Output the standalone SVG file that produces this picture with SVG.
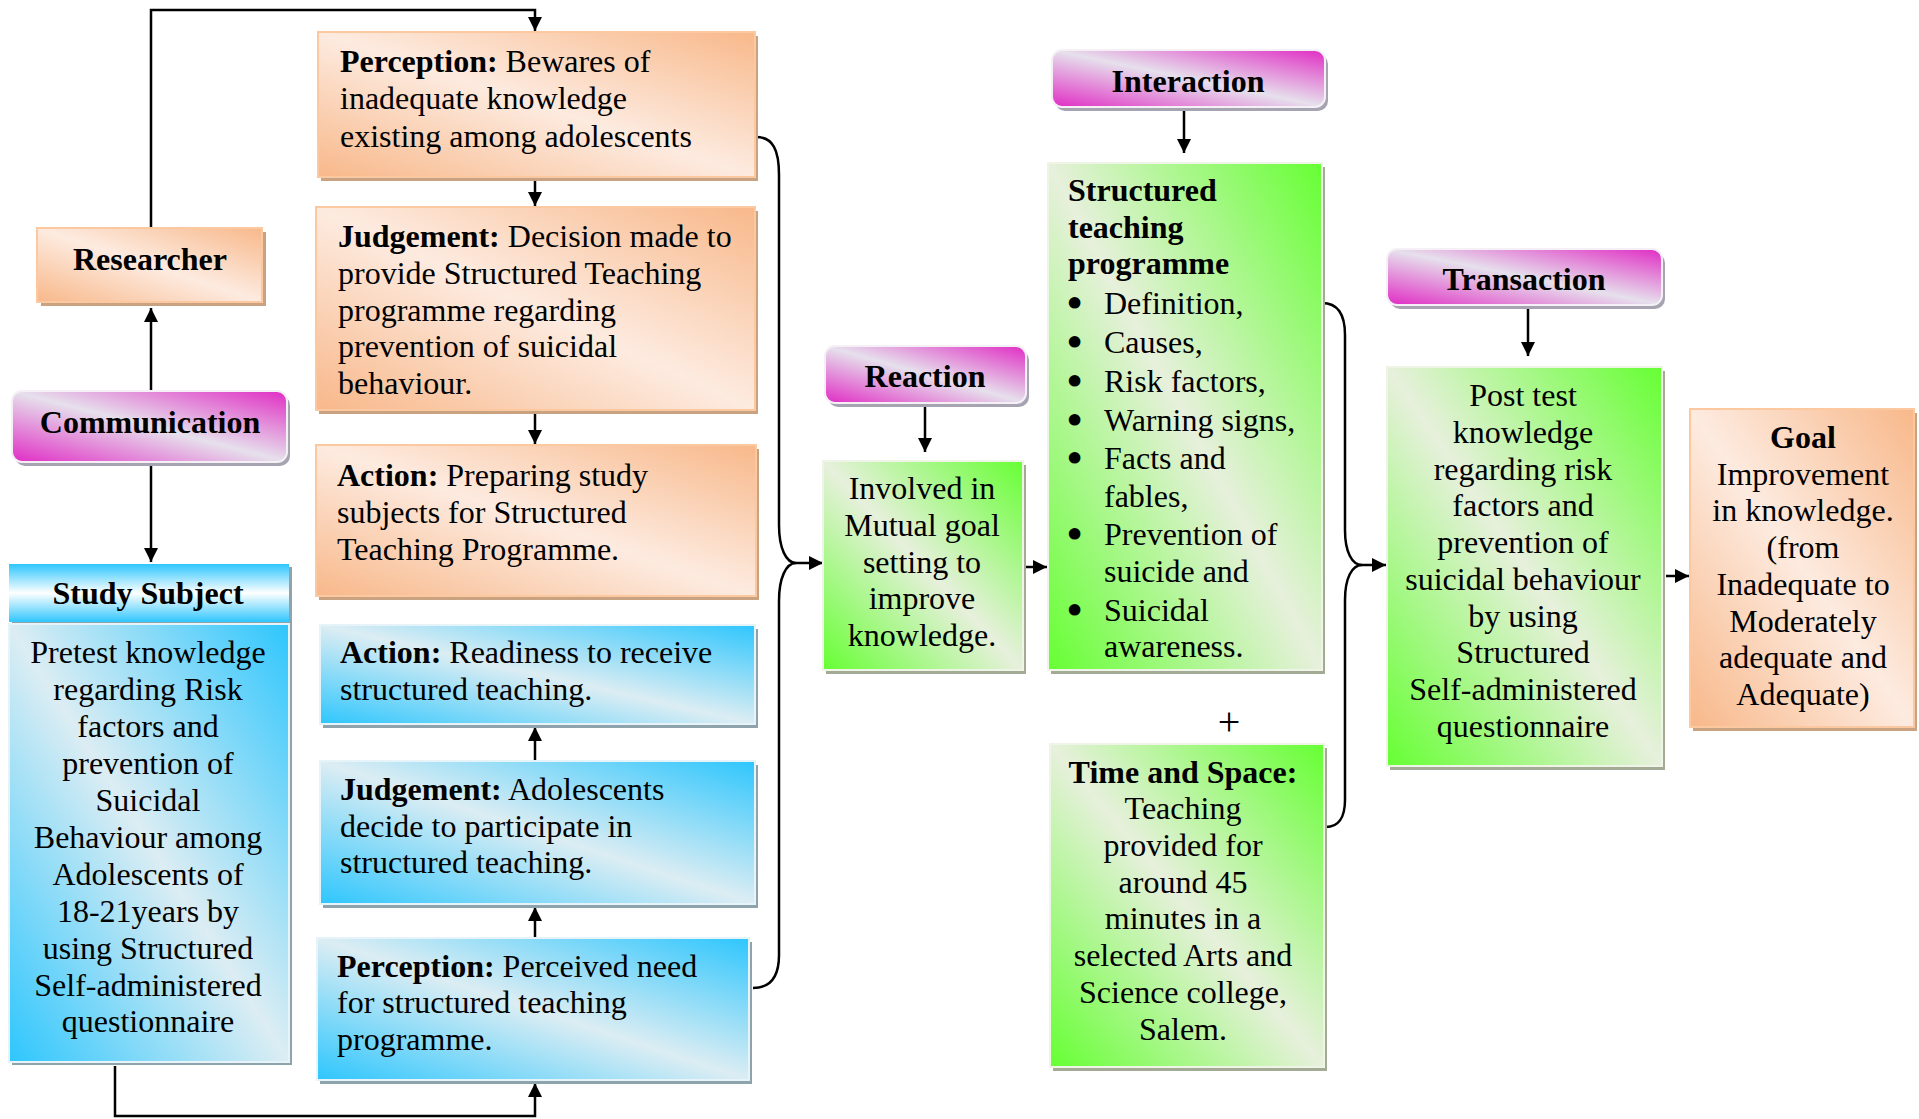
<svg xmlns="http://www.w3.org/2000/svg" width="1919" height="1119" viewBox="0 0 1919 1119">
<style>
text{font-family:"Liberation Serif","Times New Roman",serif;font-size:32px;fill:#000}
.b{font-weight:bold}
.c{text-anchor:middle}
.bu{stroke:#000;stroke-width:4;stroke-linejoin:round}
.ln{fill:none;stroke:#000;stroke-width:2.5}
.or{fill:url(#gOr);stroke:#fbc8a0;stroke-width:2}
.bl{fill:url(#gBl);stroke:#e6f4fa;stroke-width:2}
.gr{fill:url(#gGr);stroke:#eef4e6;stroke-width:2}
.pk{fill:url(#gPk);stroke:#f4f0f6;stroke-width:2}
.sOr{fill:#c9a281}
.sBl{fill:#8fa3ad}
.sGr{fill:#a4ab94}
.sPk{fill:#a7a4b2}
</style>
<defs>
<linearGradient id="gOr" x1="0" y1="1" x2="1" y2="0">
<stop offset="0" stop-color="#f8b88a"/><stop offset="0.5" stop-color="#fdebe0"/><stop offset="1" stop-color="#f8b88a"/>
</linearGradient>
<linearGradient id="gBl" x1="0" y1="1" x2="1" y2="0">
<stop offset="0" stop-color="#2ec6fd"/><stop offset="0.5" stop-color="#dcedf3"/><stop offset="1" stop-color="#2ec6fd"/>
</linearGradient>
<linearGradient id="gGr" x1="0" y1="1" x2="1" y2="0">
<stop offset="0" stop-color="#66ff33"/><stop offset="0.5" stop-color="#e7f0dc"/><stop offset="1" stop-color="#66ff33"/>
</linearGradient>
<linearGradient id="gPk" x1="0" y1="1" x2="1" y2="0">
<stop offset="0" stop-color="#e02cc4"/><stop offset="0.5" stop-color="#e6e0ec"/><stop offset="1" stop-color="#e02cc4"/>
</linearGradient>
<linearGradient id="gHd" x1="0" y1="0" x2="0" y2="1">
<stop offset="0" stop-color="#2ec6fd"/><stop offset="0.5" stop-color="#ffffff"/><stop offset="1" stop-color="#2ec6fd"/>
</linearGradient>
<marker id="ar" markerUnits="userSpaceOnUse" markerWidth="16" markerHeight="16" refX="14" refY="8" orient="auto">
<path d="M0,1 L14,8 L0,15 z" fill="#000"/>
</marker>
</defs>

<g id="connectors">
<path class="ln" d="M151,228 L151,10 L535,10 L535,31" marker-end="url(#ar)"/>
<path class="ln" d="M535,180 L535,206" marker-end="url(#ar)"/>
<path class="ln" d="M535,413 L535,444" marker-end="url(#ar)"/>
<path class="ln" d="M151,391 L151,308" marker-end="url(#ar)"/>
<path class="ln" d="M151,464 L151,562" marker-end="url(#ar)"/>
<path class="ln" d="M115,1066 L115,1116 L535,1116 L535,1083" marker-end="url(#ar)"/>
<path class="ln" d="M535,937 L535,907" marker-end="url(#ar)"/>
<path class="ln" d="M535,760 L535,727" marker-end="url(#ar)"/>
<path class="ln" d="M756,137 C773,137 779,150 779,175 L779,525 C779,548 786,563 796,563"/>
<path class="ln" d="M753,988 C771,988 779,976 779,955 L779,601 C779,578 786,563 796,563 L823,563" marker-end="url(#ar)"/>
<path class="ln" d="M925,405 L925,452" marker-end="url(#ar)"/>
<path class="ln" d="M1025,567 L1047,567" marker-end="url(#ar)"/>
<path class="ln" d="M1184,109 L1184,153" marker-end="url(#ar)"/>
<path class="ln" d="M1322,303 C1338,303 1345,315 1345,335 L1345,530 C1345,552 1352,565 1362,565"/>
<path class="ln" d="M1326,827 C1338,827 1345,818 1345,800 L1345,600 C1345,578 1352,565 1362,565 L1386,565" marker-end="url(#ar)"/>
<path class="ln" d="M1528,309 L1528,356" marker-end="url(#ar)"/>
<path class="ln" d="M1666,576 L1689,576" marker-end="url(#ar)"/>
</g>

<g id="researcher">
<rect class="sOr" x="41" y="232" width="225" height="74"/>
<rect class="or" x="37" y="228" width="225" height="74"/>
<text class="b c" x="150" y="270">Researcher</text>
</g>

<g id="communication">
<rect class="sPk" x="15" y="395" width="275" height="71" rx="10"/>
<rect class="pk" x="12" y="391" width="275" height="71" rx="10"/>
<text class="b c" x="150" y="433">Communication</text>
</g>

<g id="study-subject">
<rect class="sBl" x="12" y="567" width="280" height="498"/>
<rect x="9" y="564" width="280" height="58" fill="url(#gHd)"/>
<rect class="bl" x="9" y="624" width="280" height="438"/>
<text class="b c" x="148" y="604">Study Subject</text>
<text class="c" x="148" y="663">Pretest knowledge</text>
<text class="c" x="148" y="700">regarding Risk</text>
<text class="c" x="148" y="737">factors and</text>
<text class="c" x="148" y="774">prevention of</text>
<text class="c" x="148" y="811">Suicidal</text>
<text class="c" x="148" y="848">Behaviour among</text>
<text class="c" x="148" y="885">Adolescents of</text>
<text class="c" x="148" y="922">18-21years by</text>
<text class="c" x="148" y="959">using Structured</text>
<text class="c" x="148" y="996">Self-administered</text>
<text class="c" x="148" y="1032">questionnaire</text>
</g>

<g id="perception-researcher">
<rect class="sOr" x="321" y="36" width="437" height="145"/>
<rect class="or" x="318" y="32" width="437" height="145"/>
<text x="340" y="72"><tspan class="b">Perception:</tspan> Bewares of</text>
<text x="340" y="109">inadequate knowledge</text>
<text x="340" y="147">existing among adolescents</text>
</g>

<g id="judgement-researcher">
<rect class="sOr" x="319" y="211" width="439" height="203"/>
<rect class="or" x="316" y="207" width="439" height="203"/>
<text x="338" y="247"><tspan class="b">Judgement:</tspan> Decision made to</text>
<text x="338" y="284">provide Structured Teaching</text>
<text x="338" y="321">programme regarding</text>
<text x="338" y="357">prevention of suicidal</text>
<text x="338" y="394">behaviour.</text>
</g>

<g id="action-researcher">
<rect class="sOr" x="319" y="449" width="440" height="151"/>
<rect class="or" x="316" y="445" width="440" height="151"/>
<text x="337" y="486"><tspan class="b">Action:</tspan> Preparing study</text>
<text x="337" y="523">subjects for Structured</text>
<text x="337" y="560">Teaching Programme.</text>
</g>

<g id="action-subject">
<rect class="sBl" x="323" y="629" width="435" height="99"/>
<rect class="bl" x="320" y="625" width="435" height="99"/>
<text x="340" y="663"><tspan class="b">Action:</tspan> Readiness to receive</text>
<text x="340" y="700">structured teaching.</text>
</g>

<g id="judgement-subject">
<rect class="sBl" x="323" y="765" width="435" height="143"/>
<rect class="bl" x="320" y="761" width="435" height="143"/>
<text x="340" y="800"><tspan class="b">Judgement:</tspan> Adolescents</text>
<text x="340" y="837">decide to participate in</text>
<text x="340" y="873">structured teaching.</text>
</g>

<g id="perception-subject">
<rect class="sBl" x="320" y="942" width="432" height="142"/>
<rect class="bl" x="317" y="938" width="432" height="142"/>
<text x="337" y="977"><tspan class="b">Perception:</tspan> Perceived need</text>
<text x="337" y="1013">for structured teaching</text>
<text x="337" y="1050">programme.</text>
</g>

<g id="reaction">
<rect class="sPk" x="828" y="350" width="201" height="57" rx="10"/>
<rect class="pk" x="825" y="346" width="201" height="57" rx="10"/>
<text class="b c" x="925" y="387">Reaction</text>
</g>

<g id="involved">
<rect class="sGr" x="826" y="465" width="200" height="209"/>
<rect class="gr" x="823" y="461" width="200" height="209"/>
<text class="c" x="922" y="499">Involved in</text>
<text class="c" x="922" y="536">Mutual goal</text>
<text class="c" x="922" y="573">setting to</text>
<text class="c" x="922" y="609">improve</text>
<text class="c" x="922" y="646">knowledge.</text>
</g>

<g id="interaction">
<rect class="sPk" x="1055" y="54" width="273" height="57" rx="10"/>
<rect class="pk" x="1052" y="50" width="273" height="57" rx="10"/>
<text class="b c" x="1188" y="92">Interaction</text>
</g>

<g id="structured-teaching">
<rect class="sGr" x="1051" y="167" width="274" height="507"/>
<rect class="gr" x="1048" y="163" width="274" height="507"/>
<text class="b" x="1068" y="201">Structured</text>
<text class="b" x="1068" y="238">teaching</text>
<text class="b" x="1068" y="274">programme</text>
<text x="1069" y="314"><tspan class="bu">•</tspan><tspan x="1104">Definition,</tspan></text>
<text x="1069" y="353"><tspan class="bu">•</tspan><tspan x="1104">Causes,</tspan></text>
<text x="1069" y="392"><tspan class="bu">•</tspan><tspan x="1104">Risk factors,</tspan></text>
<text x="1069" y="431"><tspan class="bu">•</tspan><tspan x="1104">Warning signs,</tspan></text>
<text x="1069" y="469"><tspan class="bu">•</tspan><tspan x="1104">Facts and</tspan></text>
<text x="1104" y="507">fables,</text>
<text x="1069" y="545"><tspan class="bu">•</tspan><tspan x="1104">Prevention of</tspan></text>
<text x="1104" y="582">suicide and</text>
<text x="1069" y="621"><tspan class="bu">•</tspan><tspan x="1104">Suicidal</tspan></text>
<text x="1104" y="657">awareness.</text>
</g>

<text class="c" x="1229" y="735" style="font-size:40px">+</text>

<g id="time-space">
<rect class="sGr" x="1053" y="748" width="274" height="323"/>
<rect class="gr" x="1050" y="744" width="274" height="323"/>
<text class="b c" x="1183" y="783">Time and Space:</text>
<text class="c" x="1183" y="819">Teaching</text>
<text class="c" x="1183" y="856">provided for</text>
<text class="c" x="1183" y="893">around 45</text>
<text class="c" x="1183" y="929">minutes in a</text>
<text class="c" x="1183" y="966">selected Arts and</text>
<text class="c" x="1183" y="1003">Science college,</text>
<text class="c" x="1183" y="1040">Salem.</text>
</g>

<g id="transaction">
<rect class="sPk" x="1390" y="253" width="275" height="56" rx="10"/>
<rect class="pk" x="1387" y="249" width="275" height="56" rx="10"/>
<text class="b c" x="1524" y="290">Transaction</text>
</g>

<g id="post-test">
<rect class="sGr" x="1390" y="371" width="275" height="399"/>
<rect class="gr" x="1387" y="367" width="275" height="399"/>
<text class="c" x="1523" y="406">Post test</text>
<text class="c" x="1523" y="443">knowledge</text>
<text class="c" x="1523" y="480">regarding risk</text>
<text class="c" x="1523" y="516">factors and</text>
<text class="c" x="1523" y="553">prevention of</text>
<text class="c" x="1523" y="590">suicidal behaviour</text>
<text class="c" x="1523" y="627">by using</text>
<text class="c" x="1523" y="663">Structured</text>
<text class="c" x="1523" y="700">Self-administered</text>
<text class="c" x="1523" y="737">questionnaire</text>
</g>

<g id="goal">
<rect class="sOr" x="1693" y="413" width="224" height="318"/>
<rect class="or" x="1690" y="409" width="224" height="318"/>
<text class="b c" x="1803" y="448">Goal</text>
<text class="c" x="1803" y="485">Improvement</text>
<text class="c" x="1803" y="521">in knowledge.</text>
<text class="c" x="1803" y="558">(from</text>
<text class="c" x="1803" y="595">Inadequate to</text>
<text class="c" x="1803" y="632">Moderately</text>
<text class="c" x="1803" y="668">adequate and</text>
<text class="c" x="1803" y="705">Adequate)</text>
</g>
</svg>
